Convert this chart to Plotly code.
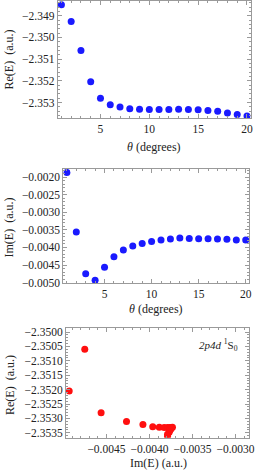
import plotly.graph_objects as go

theta = list(range(1, 21))
re_e = [-2.34849, -2.34926, -2.35060, -2.35205, -2.35280, -2.35311, -2.35321, -2.35329,
        -2.35331, -2.35332, -2.35332, -2.35332, -2.35331, -2.35332, -2.35334, -2.35337,
        -2.35341, -2.35348, -2.35355, -2.35362]
im_e = [-0.001867, -0.003562, -0.004752, -0.004933, -0.004562, -0.004267, -0.004076,
        -0.003962, -0.003886, -0.003829, -0.003790, -0.003762, -0.003733, -0.003743,
        -0.003752, -0.003752, -0.003762, -0.003771, -0.003790, -0.003790]

W, H = 255, 474
FONT = "Liberation Serif"
GRAY = "#9a9a9a"

def px(x):
    return x / W

def py(y):
    return 1 - y / H

fig = go.Figure()
fig.add_trace(go.Scatter(x=theta, y=re_e, mode="markers", xaxis="x", yaxis="y",
                         marker=dict(color="#1a1aff", size=7), cliponaxis=True))
fig.add_trace(go.Scatter(x=theta, y=im_e, mode="markers", xaxis="x2", yaxis="y2",
                         marker=dict(color="#1a1aff", size=7), cliponaxis=True))
fig.add_trace(go.Scatter(x=im_e, y=re_e, mode="markers", xaxis="x3", yaxis="y3",
                         marker=dict(color="#ff0f0f", size=7), cliponaxis=True))

def ax(domain, rng, dtick, minor, fmt, anchor):
    return dict(domain=domain, range=rng, anchor=anchor, dtick=dtick, tick0=0,
                tickformat=fmt, showline=True, mirror="allticks", linecolor=GRAY,
                linewidth=1, ticks="inside", ticklen=4, tickcolor=GRAY, tickwidth=1,
                minor=dict(ticks="inside", ticklen=2, dtick=minor, tickcolor=GRAY),
                showgrid=False, zeroline=False, automargin=False,
                ticklabeloverflow="allow",
                tickfont=dict(family=FONT, size=11.5, color="#222"))

fig.update_layout(
    width=W, height=H, margin=dict(l=0, r=0, t=0, b=0),
    paper_bgcolor="white", plot_bgcolor="white", showlegend=False,
    xaxis=ax([px(57.7), px(250.7)], [0.62, 20.38], 5, 1, "d", "y"),
    yaxis=ax([py(118.3), py(1)], [-2.35373, -2.34832], 0.001, 0.0002, ".3f", "x"),
    xaxis2=ax([px(63.3), px(249.3)], [0.62, 20.38], 5, 1, "d", "y2"),
    yaxis2=ax([py(283.3), py(169)], [-0.00502, -0.00177], 0.0005, 0.0001, ".4f", "x2"),
    xaxis3=ax([px(66), px(249.3)], [-0.00497, -0.00284], 0.0005, 0.0001, ".4f", "y3"),
    yaxis3=ax([py(437.7), py(328.3)], [-2.35367, -2.34987], 0.0005, 0.0001, ".4f", "x3"),
)

ann = [
    dict(text="<i>θ</i> (degrees)", x=px(154), y=py(147)),
    dict(text="<i>θ</i> (degrees)", x=px(156), y=py(309)),
    dict(text="Im(E) (a.u.)", x=px(158), y=py(463)),
    dict(text="Re(E)  (a.u.)", x=px(8.5), y=py(60), textangle=-90),
    dict(text="Im(E)  (a.u.)", x=px(8.5), y=py(228), textangle=-90),
    dict(text="Re(E)  (a.u.)", x=px(10), y=py(385), textangle=-90),
    dict(text="<i>2p4d</i> <sup>1</sup>S<sub>0</sub>", x=px(218), y=py(345), size=11),
]
for a in ann:
    size = a.pop("size", 12)
    fig.add_annotation(xref="paper", yref="paper", showarrow=False,
                       xanchor="center", yanchor="middle",
                       font=dict(family=FONT, size=size, color="#222"), **a)

fig.write_html("out.html",
               config={"displayModeBar": False},
               post_script="document.body.style.margin='0';"
                           "document.documentElement.style.overflow='hidden';"
                           "document.body.style.overflow='hidden';")
